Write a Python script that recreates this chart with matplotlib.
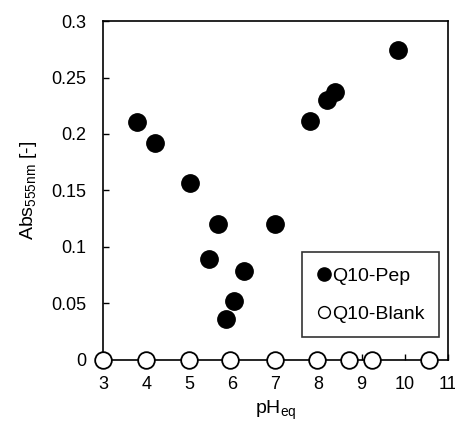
import matplotlib
matplotlib.use("Agg")
import matplotlib.pyplot as plt
from matplotlib.lines import Line2D

plt.rcParams['font.family'] = ['Liberation Sans', 'DejaVu Sans']
plt.rcParams['mathtext.fontset'] = 'custom'
plt.rcParams['mathtext.rm'] = 'Liberation Sans'
plt.rcParams['mathtext.it'] = 'Liberation Sans'

pep_ph = [3.78, 4.21, 5.02, 5.67, 6.99, 5.47, 6.28, 6.05, 5.85, 7.81, 8.20, 8.39, 9.84]
pep_abs = [0.2107, 0.1923, 0.1568, 0.1199, 0.1200, 0.0891, 0.0787, 0.0518, 0.0358, 0.2115, 0.2302, 0.2375, 0.2745]
blank_ph = [3.0, 4.0, 5.0, 5.95, 7.0, 7.97, 8.70, 9.25, 10.57]
blank_abs = [0, 0, 0, 0, 0, 0, 0, 0, 0]

xticks = [3, 4, 5, 6, 7, 8, 9, 10, 11]
yticks = [0, 0.05, 0.1, 0.15, 0.2, 0.25, 0.3]
ytick_labels = ['0', '0.05', '0.1', '0.15', '0.2', '0.25', '0.3']

fig = plt.figure(figsize=(4.56, 4.23), dpi=100)
ax = fig.add_axes([0.226, 0.150, 0.756, 0.800])

ax.plot(pep_ph, pep_abs, 'o', color='black', markersize=12.5, linestyle='none', zorder=3)
ax.plot(blank_ph, blank_abs, 'o', markerfacecolor='white', markeredgecolor='black',
        markeredgewidth=1.3, markersize=12, linestyle='none', clip_on=False, zorder=4)

ax.set_xlim(3, 11)
ax.set_ylim(0, 0.3)
ax.set_xticks(xticks)
ax.set_yticks(yticks)
ax.set_yticklabels(ytick_labels)
ax.tick_params(axis='x', direction='in', length=4, width=1, labelsize=13, pad=12)
ax.tick_params(axis='y', direction='in', length=4, width=1, labelsize=13, pad=12)
for s in ax.spines.values():
    s.set_linewidth(1.2)

ax.set_xlabel('pH$_{\\mathregular{eq}}$', fontsize=14, labelpad=4)
ax.set_ylabel('Abs$_{\\mathregular{555nm}}$ [-]', fontsize=14, labelpad=9)

handles = [
    Line2D([], [], marker='o', color='black', linestyle='none', markersize=9.5),
    Line2D([], [], marker='o', markerfacecolor='white', markeredgecolor='black',
           linestyle='none', markersize=8.5, markeredgewidth=1.0),
]
leg = ax.legend(handles, ['Q10-Pep', 'Q10-Blank'], loc='lower right',
                bbox_to_anchor=(0.974, 0.066), fontsize=14, frameon=True,
                fancybox=False, edgecolor='black', handlelength=0.8,
                handletextpad=0.0, labelspacing=1.05, borderpad=0.75, borderaxespad=0)
leg.get_frame().set_linewidth(1.2)

fig.savefig('out.png', dpi=100)
